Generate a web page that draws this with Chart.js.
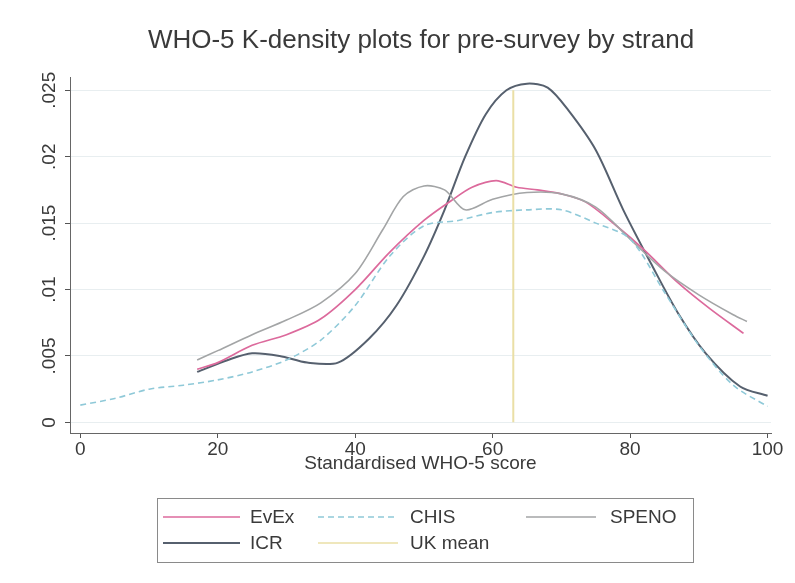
<!DOCTYPE html>
<html>
<head>
<meta charset="utf-8">
<script src="https://cdn.jsdelivr.net/npm/chart.js@4"></script>
<style>
  html, body { margin: 0; padding: 0; background: #ffffff; }
  #wrap { width: 795px; height: 583px; }
</style>
</head>
<body>
<div id="wrap"><canvas id="c" width="795" height="583"></canvas></div>
<script>
// Axis ticks
const xTicks = [0, 20, 40, 60, 80, 100];
const yTicks = [0, 0.005, 0.01, 0.015, 0.02, 0.025];
const yTickLabels = ['0', '.005', '.01', '.015', '.02', '.025'];

// Kernel density estimates of the standardised WHO-5 score, by strand
const evexX = [17, 20, 25, 30, 35, 40, 45, 50, 54, 57, 60.5, 63.5, 66.5, 70, 73.5, 78, 82, 87, 91.5, 96.5];
const evexY = [0.0040, 0.0045, 0.0058, 0.0066, 0.0078, 0.0100, 0.0128, 0.0152, 0.0167, 0.0177, 0.0182, 0.0177, 0.0175, 0.0172, 0.0166, 0.0148, 0.0130, 0.0105, 0.0086, 0.0067];

const chisX = [0, 5, 10, 15, 20, 25, 30, 35, 40, 45, 50, 55, 60, 65, 70, 75, 80, 85, 90, 95, 100];
const chisY = [0.0013, 0.0018, 0.0025, 0.0028, 0.0032, 0.0038, 0.0047, 0.0062, 0.0088, 0.0125, 0.0148, 0.0152, 0.0158, 0.0160, 0.0160, 0.0150, 0.0138, 0.0098, 0.0058, 0.0028, 0.0012];

const spenX = [17, 20, 25, 30, 35, 40, 44, 47, 50, 53, 56, 60, 65, 70, 75, 80, 85, 90, 95, 97];
const spenY = [0.0047, 0.0054, 0.0066, 0.0077, 0.0090, 0.0112, 0.0145, 0.0170, 0.0178, 0.0175, 0.0160, 0.0168, 0.0173, 0.0172, 0.0162, 0.0138, 0.0114, 0.0096, 0.0081, 0.0076];

const icrX = [17, 21.5, 25, 29, 33, 37.5, 42, 46, 50, 53, 56, 59, 62, 65, 68, 71, 75, 79, 83, 87, 91, 96, 100];
const icrY = [0.0038, 0.0047, 0.0052, 0.0050, 0.0045, 0.0045, 0.0063, 0.0088, 0.0125, 0.0160, 0.0200, 0.0232, 0.0250, 0.0255, 0.0252, 0.0235, 0.0205, 0.0160, 0.0120, 0.0082, 0.0052, 0.0027, 0.0020];

// UK population mean score, drawn as a vertical reference line
const ukMeanX = [63, 63];
const ukMeanY = [0, 0.025];

const colours = {
  EvEx: '#dc6a9c',
  CHIS: '#8fc9d8',
  SPENO: '#a3a5a6',
  ICR: '#56606e',
  'UK mean': '#eadfa6'
};
const dashes = { EvEx: [], CHIS: [6, 4], SPENO: [], ICR: [], 'UK mean': [] };

const toPoints = (xs, ys) => xs.map((x, i) => ({ x: x, y: ys[i] }));

function curve(name, xs, ys, width) {
  return {
    label: name,
    data: toPoints(xs, ys),
    borderColor: colours[name],
    borderWidth: width,
    borderDash: dashes[name],
    pointRadius: 0,
    tension: 0.3,
    fill: false
  };
}

const FONT = '"Liberation Sans", Arial, sans-serif';
const TEXT = '#3a3a3a';

// Rotated y labels, title and a three-column legend box
const decorations = {
  id: 'decorations',
  afterDraw(chart) {
    const ctx = chart.ctx;
    const ys = chart.scales.y;
    ctx.save();
    ctx.fillStyle = TEXT;

    // title
    ctx.font = '26px ' + FONT;
    ctx.textAlign = 'center';
    ctx.textBaseline = 'alphabetic';
    ctx.fillText('WHO-5 K-density plots for pre-survey by strand', 421, 48);

    // y tick labels, vertical
    ctx.font = '19px ' + FONT;
    yTicks.forEach((v, i) => {
      const py = ys.getPixelForValue(v);
      ctx.save();
      ctx.translate(50, py);
      ctx.rotate(-Math.PI / 2);
      ctx.textAlign = 'center';
      ctx.textBaseline = 'middle';
      ctx.fillText(yTickLabels[i], 0, 0);
      ctx.restore();
    });

    // legend box
    const bx = 157, by = 498, bw = 536, bh = 64;
    ctx.strokeStyle = '#8a8a8a';
    ctx.lineWidth = 1;
    ctx.strokeRect(bx + 0.5, by + 0.5, bw, bh);

    const slots = [
      { name: 'EvEx', x0: 163, x1: 240, tx: 250, y: 517 },
      { name: 'CHIS', x0: 318, x1: 398, tx: 410, y: 517 },
      { name: 'SPENO', x0: 526, x1: 596, tx: 610, y: 517 },
      { name: 'ICR', x0: 163, x1: 240, tx: 250, y: 543 },
      { name: 'UK mean', x0: 318, x1: 398, tx: 410, y: 543 }
    ];
    ctx.font = '19px ' + FONT;
    ctx.textAlign = 'left';
    ctx.textBaseline = 'middle';
    slots.forEach(s => {
      ctx.beginPath();
      ctx.setLineDash(dashes[s.name]);
      ctx.strokeStyle = colours[s.name];
      ctx.lineWidth = s.name === 'ICR' ? 2 : 1.6;
      ctx.moveTo(s.x0, s.y);
      ctx.lineTo(s.x1, s.y);
      ctx.stroke();
      ctx.setLineDash([]);
      ctx.fillStyle = TEXT;
      ctx.fillText(s.name, s.tx, s.y + 1);
    });
    ctx.restore();
  }
};

new Chart(document.getElementById('c'), {
  type: 'line',
  data: {
    datasets: [
      {
        label: 'UK mean',
        data: toPoints(ukMeanX, ukMeanY),
        borderColor: colours['UK mean'],
        borderWidth: 2,
        pointRadius: 0,
        tension: 0
      },
      curve('CHIS', chisX, chisY, 1.6),
      curve('SPENO', spenX, spenY, 1.6),
      curve('EvEx', evexX, evexY, 1.7),
      curve('ICR', icrX, icrY, 2)
    ]
  },
  options: {
    responsive: false,
    animation: false,
    events: [],
    layout: { padding: { left: 48, right: 24, top: 77, bottom: 108 } },
    plugins: {
      legend: { display: false },
      title: { display: false },
      tooltip: { enabled: false }
    },
    scales: {
      x: {
        type: 'linear',
        min: -1.5,
        max: 100.5,
        afterBuildTicks: s => { s.ticks = xTicks.map(v => ({ value: v })); },
        afterFit: s => { s.height = 42; },
        grid: {
          drawOnChartArea: false,
          drawTicks: true,
          tickLength: 5,
          color: '#555'
        },
        border: { display: true, color: '#666', width: 1 },
        ticks: {
          color: TEXT,
          font: { family: FONT, size: 19 },
          padding: 0,
          maxRotation: 0,
          autoSkip: false
        },
        title: {
          display: true,
          text: 'Standardised WHO-5 score',
          color: TEXT,
          font: { family: FONT, size: 19 },
          padding: { top: 0, bottom: 0 }
        }
      },
      y: {
        type: 'linear',
        min: -0.0008,
        max: 0.026,
        afterBuildTicks: s => { s.ticks = yTicks.map(v => ({ value: v })); },
        afterFit: s => { s.width = 22; },
        grid: {
          drawOnChartArea: true,
          drawTicks: true,
          tickLength: 5,
          color: '#e8eef0',
          tickColor: '#555'
        },
        border: { display: true, color: '#666', width: 1 },
        ticks: { display: false }
      }
    }
  },
  plugins: [decorations]
});
</script>
</body>
</html>
